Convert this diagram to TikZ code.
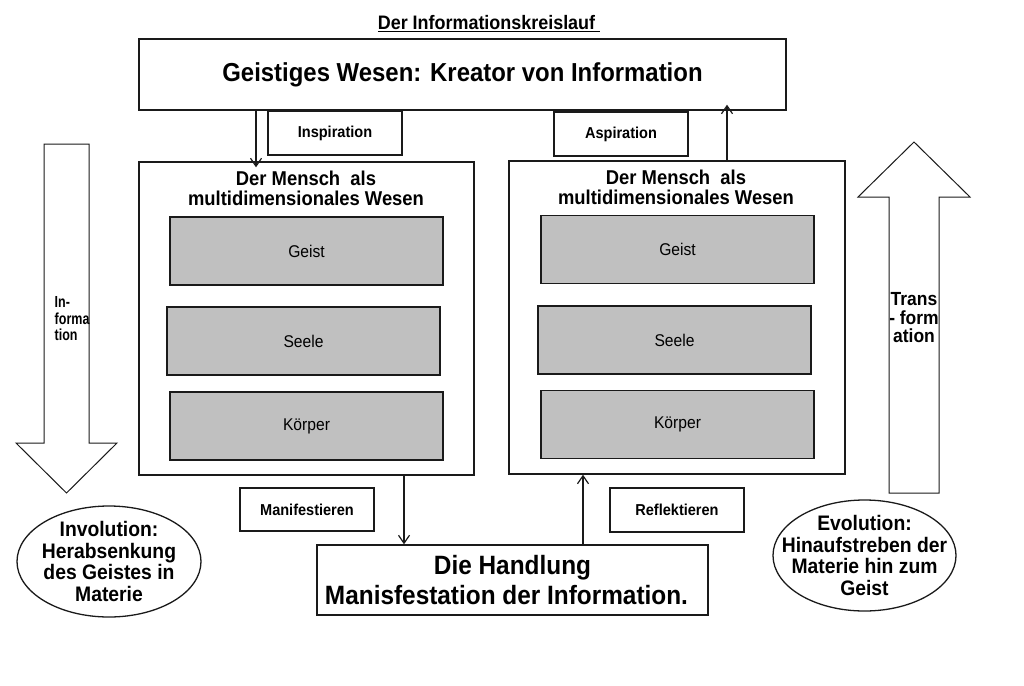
\documentclass[tikz,border=0pt]{standalone}
\usepackage{fontspec}
\setmainfont[FakeStretch=0.92]{Liberation Sans}
\usetikzlibrary{arrows.meta,shapes.geometric}
\definecolor{grayfill}{HTML}{C0C0C0}
\definecolor{linec}{HTML}{1A1A1A}
\begin{document}
\begin{tikzpicture}[x=1pt,y=-1pt,
  box/.style={draw=linec,line width=1.4pt,rectangle,inner sep=0pt,fill=white},
  part/.style={draw=linec,line width=1.4pt,rectangle,inner sep=0pt,fill=grayfill,minimum width=273pt,minimum height=68pt,font=\fontsize{17}{20}\selectfont},
  lbl/.style={box,minimum width=134pt,minimum height=44pt,font=\fontsize{15.8}{18}\selectfont\bfseries},
  arr/.style={draw=linec,line width=1.2pt,-{Straight Barb[length=8pt,width=11pt,line width=1.2pt]}},
  blk/.style={draw=linec,line width=1pt,fill=white,line join=miter},
  ell/.style={draw=linec,line width=1.3pt,ellipse,inner sep=-30pt,fill=white,align=center,font=\fontsize{21}{21.7}\selectfont\bfseries},
  ttl/.style={align=center,font=\fontsize{20}{20.5}\selectfont\bfseries,inner sep=0pt}
]
\useasboundingbox (0,0) rectangle (1024,685);

% title
\node[font=\fontsize{19.5}{22}\selectfont\bfseries,inner sep=0pt] (title) at (489,24) {\underline{Der Informationskreislauf~}};

% top box
\node[box,minimum width=647pt,minimum height=71pt,font=\fontsize{26}{30}\selectfont\bfseries] (top) at (462.5,74.5) {Geistiges Wesen: Kreator von Information};

% labels
\node[lbl] (insp) at (335,133) {Inspiration};
\node[lbl] (asp) at (621,134) {Aspiration};

% left person box
\node[box,minimum width=335pt,minimum height=313pt] (lbox) at (306.5,318.5) {};
\node[ttl] (lttl) at (306,188.5) {Der Mensch~ als\\multidimensionales Wesen};
\node[part] (lg) at (306.5,251) {Geist};
\node[part] (ls) at (303.5,341) {Seele};
\node[part] (lk) at (306.5,426) {Körper};

% right person box
\node[box,minimum width=336pt,minimum height=313pt] (rbox) at (677,317.5) {};
\node[ttl] (rttl) at (676,187.5) {Der Mensch~ als\\multidimensionales Wesen};
\node[part] (rg) at (677.5,249.5) {Geist};
\node[part] (rs) at (674.5,340) {Seele};
\node[part] (rk) at (677.5,424.5) {Körper};

% lower labels
\node[lbl,minimum height=43pt] (man) at (307,509.5) {Manifestieren};
\node[lbl] (refl) at (677,510) {Reflektieren};

% action box
\node[box,minimum width=391pt,minimum height=70pt,align=center,font=\fontsize{26.5}{30}\selectfont\bfseries] (hand) at (512.5,580) {Die Handlung\\Manisfestation der Information.\hspace*{12pt}};

% connectors
\draw[arr] (top.south -| 256,0) -- ([yshift=-6pt]lbox.north -| 256,0);
\draw[arr] (rbox.north -| 727,0) -- ([yshift=6pt]top.south -| 727,0);
\draw[arr] (lbox.south -| 404,0) -- (hand.north -| 404,0);
\draw[arr] (hand.north -| 583,0) -- (rbox.south -| 583,0);

% big block arrows
\draw[blk] (44,144) -- (89,144) -- (89,443) -- (117,443) -- (66.5,493) -- (16,443) -- (44,443) -- cycle;
\node[anchor=west,align=left,font=\fontsize{16}{16.5}\selectfont\bfseries,inner sep=0pt] (inf) at (54.5,319) {\scalebox{0.85}[1]{In-}\\\scalebox{0.85}[1]{forma}\\\scalebox{0.85}[1]{tion}};

\draw[blk] (889,493) -- (939,493) -- (939,197) -- (970,197) -- (914,142) -- (858,197) -- (889,197) -- cycle;
\node[align=center,font=\fontsize{19}{18.5}\selectfont\bfseries,inner sep=0pt] (trf) at (914,318) {Trans\\- form\\ation};

% ellipses
\node[ell,minimum width=184pt,minimum height=111pt] (inv) at (109,561.5) {Involution:\\Herabsenkung\\des Geistes in\\Materie};
\node[ell,minimum width=183pt,minimum height=111pt] (evo) at (864.5,555.5) {Evolution:\\Hinaufstreben der\\Materie hin zum\\Geist};
\end{tikzpicture}
\end{document}
